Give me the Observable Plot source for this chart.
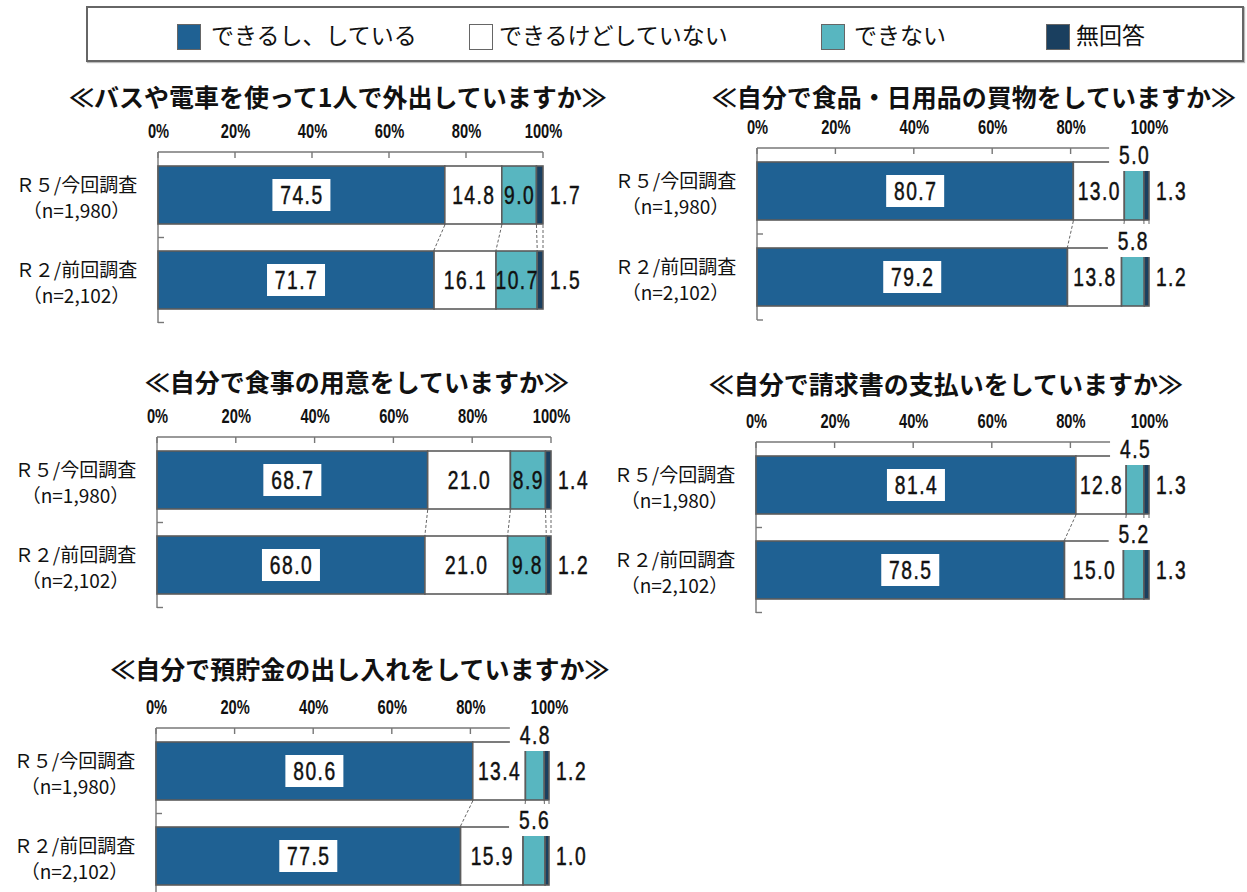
<!DOCTYPE html>
<html>
<head>
<meta charset="utf-8">
<script src="https://cdn.jsdelivr.net/npm/d3@7"></script>
<script src="https://cdn.jsdelivr.net/npm/@observablehq/plot@0.6"></script>
<style>
  html, body { margin: 0; padding: 0; background: #fff; }
  body { width: 1247px; height: 892px; position: relative; overflow: hidden;
         font-family: "Noto Sans CJK JP", sans-serif; color: #111; }
  .abs { position: absolute; }
  #legend { position: absolute; left: 86px; top: 6px; width: 1154px; height: 52px;
            border: 2px solid #666; box-shadow: 1px 1px 1px #bbb; }
  .sw { position: absolute; top: 16px; width: 24px; height: 26px; border: 1.5px solid #666; box-sizing: border-box; }
  .lt { position: absolute; top: 8px; font-size: 23px; line-height: 36px; white-space: nowrap; }
  .title { position: absolute; transform: translate(-50%, -50%); font-size: 25px; font-weight: 700;
           white-space: nowrap; }
</style>
</head>
<body>
<div id="legend"></div>
<div id="root"></div>
<script>
// ---------- data ----------
const categories = ["R5", "R2"];
const categoryLabels = ["Ｒ５/今回調査\n（n=1,980）", "Ｒ２/前回調査\n（n=2,102）"];
const responses = ["できるし、している", "できるけどしていない", "できない", "無回答"];
const tickValues = [0, 20, 40, 60, 80, 100];
const tickLabels = ["0%", "20%", "40%", "60%", "80%", "100%"];
const titles = [
  "≪バスや電車を使って1人で外出していますか≫",
  "≪自分で食品・日用品の買物をしていますか≫",
  "≪自分で食事の用意をしていますか≫",
  "≪自分で請求書の支払いをしていますか≫",
  "≪自分で預貯金の出し入れをしていますか≫"
];
const busValues      = [[74.5, 14.8, 9.0, 1.7], [71.7, 16.1, 10.7, 1.5]];
const shoppingValues = [[80.7, 13.0, 5.0, 1.3], [79.2, 13.8, 5.8, 1.2]];
const mealValues     = [[68.7, 21.0, 8.9, 1.4], [68.0, 21.0, 9.8, 1.2]];
const billValues     = [[81.4, 12.8, 4.5, 1.3], [78.5, 15.0, 5.2, 1.3]];
const savingsValues  = [[80.6, 13.4, 4.8, 1.2], [77.5, 15.9, 5.6, 1.0]];

// ---------- styles / layout ----------
const colors = ["#1f6193", "#ffffff", "#58b6c0", "#1a3f5f"];
const BORDER = "#5c5c5c";
const GRID = "#777";
const NUM_FONT = "'Liberation Sans', 'Noto Sans CJK JP', sans-serif";
const panels = [
  {values: busValues,      title: titles[0], x0: 158, x100: 543,  top: 152, bottom: 323, tx: 338, ty: 96},
  {values: shoppingValues, title: titles[1], x0: 757, x100: 1149, top: 148, bottom: 320, tx: 974, ty: 96},
  {values: mealValues,     title: titles[2], x0: 157, x100: 551,  top: 437, bottom: 608, tx: 357, ty: 381},
  {values: billValues,     title: titles[3], x0: 756, x100: 1149, top: 442, bottom: 613, tx: 946, ty: 383},
  {values: savingsValues,  title: titles[4], x0: 156, x100: 549,  top: 728, bottom: 899, tx: 360, ty: 668}
];
const ML = 158, MT = 52, MR = 80, MB = 12;

// ---------- legend ----------
const legendPos = [{sw: 89, tx: 123}, {sw: 381, tx: 411}, {sw: 733, tx: 766}, {sw: 958, tx: 988}];
const legend = d3.select("#legend");
responses.forEach((r, i) => {
  legend.append("div").attr("class", "sw").style("left", legendPos[i].sw + "px").style("background", colors[i]);
  legend.append("div").attr("class", "lt").style("left", legendPos[i].tx + "px").text(r);
});

function rowsFor(values) {
  const rows = [];
  categories.forEach((cat, ci) => {
    let acc = 0;
    values[ci].forEach((v, ri) => {
      rows.push({cat, ci, ri, resp: responses[ri], value: v, x1: acc, x2: acc + v, mid: acc + v / 2});
      acc += v;
    });
  });
  return rows;
}

function frameMark(index, scales, values, dims) {
  const {x, y} = scales;
  const top = dims.marginTop, bottom = dims.height - dims.marginBottom;
  const g = d3.create("svg:g").attr("stroke", GRID).attr("stroke-width", 1.4).attr("fill", "none");
  g.append("line").attr("x1", x(0)).attr("x2", x(100)).attr("y1", top).attr("y2", top);
  g.append("line").attr("x1", x(0)).attr("x2", x(0)).attr("y1", top).attr("y2", bottom);
  tickValues.forEach(t => g.append("line").attr("x1", x(t)).attr("x2", x(t)).attr("y1", top).attr("y2", top + 6));
  const bw = y.bandwidth(), st = y.step();
  categories.forEach(c => {
    const yb = y(c) + bw + (st - bw) / 2;
    g.append("line").attr("x1", x(0)).attr("x2", x(0) + 6).attr("y1", yb).attr("y2", yb);
  });
  return g.node();
}

function makeConnectors(rows) {
  return (index, scales) => {
    const {x, y} = scales;
    const bw = y.bandwidth();
    const g = d3.create("svg:g").attr("stroke", "#666").attr("stroke-width", 1).attr("stroke-dasharray", "3,2");
    responses.forEach((r, ri) => {
      const a = rows.find(d => d.ci === 0 && d.ri === ri);
      const b = rows.find(d => d.ci === 1 && d.ri === ri);
      g.append("line").attr("x1", x(a.x2)).attr("y1", y(a.cat) + bw + 1).attr("x2", x(b.x2)).attr("y2", y(b.cat) - 1);
    });
    return g.node();
  };
}

function makeBoxes(rows) {
  return (index, scales) => {
    const {x, y} = scales;
    const bw = y.bandwidth();
    const g = d3.create("svg:g").attr("fill", "#fff");
    rows.forEach(d => {
      if (d.ri === 0) {
        g.append("rect").attr("x", x(d.mid) - 29).attr("y", y(d.cat) + bw / 2 - 16).attr("width", 58).attr("height", 32);
      } else if (d.ri === 2 && d.value < 7) {
        g.append("rect").attr("x", x(d.mid) - 25).attr("y", y(d.cat) - 22).attr("width", 50).attr("height", 31);
      }
    });
    return g.node();
  };
}

// squeeze number glyphs horizontally (condensed look); marks tagged by font-variant
function condense(svg, variant, s, spacing) {
  d3.select(svg).selectAll(`g[font-variant="${variant}"] text`).each(function() {
    const el = d3.select(this);
    const x = +el.attr("x") || 0, y = +el.attr("y") || 0;
    const t = el.attr("transform") || "";
    el.attr("transform", `${t} translate(${x},${y}) scale(${s},1) translate(${-x},${-y})`);
    if (spacing) el.attr("letter-spacing", spacing);
  });
}

const root = d3.select("#root");
panels.forEach(p => {
  const rows = rowsFor(p.values);
  const w = p.x100 - p.x0, h = p.bottom - p.top;
  const valText = {fontFamily: NUM_FONT, fontSize: 26, fontWeight: "normal", fill: "#111",
    stroke: "#111", strokeWidth: 0.5, fontVariant: "tabular-nums"};
  const chart = Plot.plot({
    width: ML + w + MR,
    height: MT + h + MB,
    marginLeft: ML, marginRight: MR, marginTop: MT, marginBottom: MB,
    style: {fontFamily: NUM_FONT, fontSize: "17px", color: "#111", background: "transparent", overflow: "visible"},
    x: {domain: [0, 100], axis: null},
    y: {domain: categories, paddingInner: 0.32, paddingOuter: 0.16, axis: null},
    color: {domain: responses, range: colors},
    marks: [
      frameMark,
      Plot.text(tickValues, {x: d => d, text: (d, i) => tickLabels[i], frameAnchor: "top", lineAnchor: "middle", dy: -21,
        fontFamily: NUM_FONT, fontSize: 21, fontWeight: "bold", fill: "#111", fontVariant: "lining-nums"}),
      Plot.barX(rows, {x1: "x1", x2: "x2", y: "cat", fill: "resp", stroke: BORDER, strokeWidth: 1.6}),
      makeConnectors(rows),
      makeBoxes(rows),
      Plot.text(rows.filter(d => d.ri === 0 || d.ri === 1 || (d.ri === 2 && d.value >= 7)),
        {x: "mid", y: "cat", text: d => d.value.toFixed(1), ...valText}),
      Plot.text(rows.filter(d => d.ri === 2 && d.value < 7),
        {x: "mid", y: "cat", text: d => d.value.toFixed(1), dy: -36, ...valText}),
      Plot.text(rows.filter(d => d.ri === 3),
        {x: "x2", y: "cat", text: d => d.value.toFixed(1), dx: 22, ...valText}),
      Plot.text(categories, {y: d => d, text: (d, i) => categoryLabels[i], frameAnchor: "left", dx: -82, dy: 1,
        textAnchor: "middle", lineAnchor: "middle", lineHeight: 1.4, fontSize: 19, fontWeight: "normal",
        fontFamily: "'Noto Sans CJK JP', sans-serif", fill: "#111"})
    ]
  });
  condense(chart, "tabular-nums", 0.74, "2px");
  condense(chart, "lining-nums", 0.7, null);
  d3.select(chart).attr("class", "abs").style("left", (p.x0 - ML) + "px").style("top", (p.top - MT) + "px");
  root.node().appendChild(chart);
  root.append("div").attr("class", "title").style("left", p.tx + "px").style("top", p.ty + "px").text(p.title);
});
</script>
</body>
</html>
